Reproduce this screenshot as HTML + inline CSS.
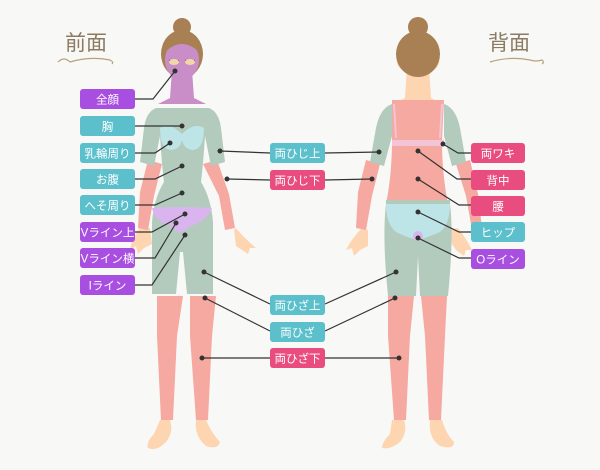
<!DOCTYPE html>
<html><head><meta charset="utf-8"><style>
html,body{margin:0;padding:0;background:#f8f8f6;}
svg{display:block}
text{font-family:"Liberation Sans","Noto Sans CJK JP",sans-serif;}
</style></head><body>
<svg width="600" height="470" viewBox="0 0 600 470" xmlns="http://www.w3.org/2000/svg">
<rect width="600" height="470" fill="#f8f8f6"/>
<!-- titles -->
<text x="65" y="50" font-size="21" fill="#8c7b62" font-family="Noto Serif CJK SC, serif">前面</text>
<path d="M58 62 q6 -6 12 0 q20 -6 40 -2 q4 2 2 4" fill="none" stroke="#b8a27a" stroke-width="1.2"/>
<text x="488" y="50" font-size="21" fill="#8c7b62" font-family="Noto Serif CJK SC, serif">背面</text>
<path d="M490 62 q20 -6 40 -2 q6 2 12 0 q3 2 0 4" fill="none" stroke="#b8a27a" stroke-width="1.2"/>

<!-- FRONT FIGURE -->
<g>
 <!-- hands -->
 <path d="M140 228 q-8 10 -10 22 l6 -4 l2 8 l6 -6 l8 -4 l-2 -16z" fill="#fdd5b1"/>
 <path d="M236 228 q6 8 20 20 l-6 0 l-2 6 l-6 -4 l-6 -4 l-2 -16z" fill="#fdd5b1"/>
 <!-- feet -->
 <path d="M160 420 l10 0 q4 12 -4 22 q-10 10 -18 6 q-2 -6 6 -14z" fill="#fdd5b1"/>
 <path d="M196 420 l10 0 q6 14 14 22 q-2 8 -14 4 q-12 -10 -10 -26z" fill="#fdd5b1"/>
 <!-- lower legs -->
 <path d="M157 296 l26 0 l-6 40 l-4 84 l-12 0 l-4 -84z" fill="#f6a9a0"/>
 <path d="M190 296 l26 0 l-4 40 l-4 84 l-12 0 l-6 -84z" fill="#f6a9a0"/>
 <!-- forearms -->
 <path d="M148 160 l14 4 l-8 32 l-6 34 l-10 -2 l2 -36z" fill="#f6a9a0"/>
 <path d="M203 164 l14 -4 l12 34 l6 34 l-10 2 l-6 -34z" fill="#f6a9a0"/>
 <!-- neck & face -->
 <path d="M172 70 l20 0 l2 28 l12 6 l-48 0 l12 -6z" fill="#c98ec8"/>
 <!-- hair -->
 <circle cx="182" cy="27" r="9" fill="#a97f54"/>
 <ellipse cx="182" cy="54" rx="21" ry="24" fill="#a97f54"/>
 <ellipse cx="182" cy="60" rx="17" ry="20" fill="#c98ec8"/>
 <path d="M165 52 q17 -16 34 0 q-4 -16 -17 -16 q-13 0 -17 16z" fill="#a97f54"/>
 <path d="M169 60 q5 4 10 0 M185 60 q5 4 10 0" fill="none" stroke="#6d4a3a" stroke-width="1"/>
 <ellipse cx="174" cy="62" rx="5" ry="3" fill="#f1d7a8"/>
 <ellipse cx="190" cy="62" rx="5" ry="3" fill="#f1d7a8"/>
 <!-- torso + upper arms -->
 <path d="M156 108 q-10 4 -12 20 l-4 34 l14 4 l6 -30 q2 30 4 46 q-10 16 -12 40 l0 72 l24 0 l4 -42 l3 0 l4 42 l26 0 l0 -72 q-2 -24 -12 -40 q2 -16 4 -46 l6 30 l14 -4 l-4 -34 q-2 -16 -12 -20 z" fill="#b3cbbd"/>
 <!-- bra -->
 <path d="M160 128 q0 20 10 22 q10 0 12 -10 q2 10 12 10 q10 -2 10 -22 q-10 -6 -22 6 q-12 -12 -22 -6z" fill="#bde4e6"/>
 <!-- panty -->
 <path d="M152 208 q30 -2 60 0 q-6 14 -22 18 l-7 6 l-6 0 l-6 -6 q-16 -4 -19 -18z" fill="#dab4ee"/>
</g>

<!-- BACK FIGURE -->
<g>
 <path d="M362 228 q-10 10 -16 22 l6 -2 l2 8 l6 -6 l8 -4 l0 -16z" fill="#fdd5b1"/>
 <path d="M458 228 q8 10 14 22 l-6 0 l-2 6 l-8 -6 l-4 -6 l-2 -14z" fill="#fdd5b1"/>
 <path d="M392 420 l12 0 q4 12 -4 22 q-10 8 -18 6 q0 -6 8 -14z" fill="#fdd5b1"/>
 <path d="M430 420 l12 0 q4 14 12 22 q0 8 -14 4 q-12 -8 -10 -26z" fill="#fdd5b1"/>
 <path d="M388 296 l26 0 l-4 40 l-4 84 l-12 0 l-6 -84z" fill="#f6a9a0"/>
 <path d="M421 296 l26 0 l-2 40 l-4 84 l-12 0 l-4 -84z" fill="#f6a9a0"/>
 <path d="M366 160 l14 4 l-8 32 l-6 34 l-10 -2 l2 -36z" fill="#f6a9a0"/>
 <path d="M456 164 l14 -4 l8 34 l4 34 l-10 2 l-6 -34z" fill="#f6a9a0"/>
 <!-- neck -->
 <path d="M407 66 l22 0 l2 32 l12 6 l-50 0 l12 -6z" fill="#fdd5b1"/>
 <path d="M398 54 q-4 10 4 16 l32 0 q8 -6 4 -16z" fill="#fdd5b1"/>
 <circle cx="418" cy="27" r="10" fill="#a97f54"/>
 <ellipse cx="418" cy="54" rx="22" ry="23" fill="#a97f54"/>
 <!-- upper arms + legs green -->
 <path d="M392 104 q-12 4 -16 24 l-6 34 l14 4 l8 -30 l0 -32z" fill="#b3cbbd"/>
 <path d="M444 104 q12 4 16 24 l6 34 l-14 4 l-8 -30 l0 -32z" fill="#b3cbbd"/>
 <path d="M386 204 l64 0 q4 30 -2 92 l-28 0 l-2 -40 l-2 40 l-28 0 q-6 -60 -2 -92z" fill="#b3cbbd"/>
 <!-- back torso pink -->
 <path d="M392 100 l52 0 l-2 40 q0 34 6 64 l-62 0 q6 -30 6 -64z" fill="#f6a9a0"/>
 <path d="M394 104 l2 34 M442 104 l-2 34" stroke="#f3c3d6" stroke-width="2"/>
 <rect x="392" y="140" width="52" height="6" fill="#f3c3d6"/>
 <rect x="386" y="200" width="64" height="5" fill="#b3cbbd"/>
 <!-- panty -->
 <path d="M386 204 l64 0 q0 20 -10 28 q-14 6 -22 8 q-10 -2 -22 -8 q-10 -8 -10 -28z" fill="#bde4e6"/>
 <circle cx="418" cy="236" r="5" fill="#dab4ee"/>
</g>

<!-- connectors -->
<g stroke="#333" stroke-width="1.2" fill="none">
 <polyline points="135,99 153,99 175,71"/>
 <polyline points="135,126 182,126"/>
 <polyline points="135,153 155,153 170,143"/>
 <polyline points="135,179 155,179 182,166"/>
 <polyline points="135,205 155,205 182,193"/>
 <polyline points="135,232 152,232 185,214"/>
 <polyline points="135,258 155,258 176,223"/>
 <polyline points="135,285 152,285 185,235"/>
 <line x1="220" y1="151" x2="270" y2="153"/><line x1="379" y1="152" x2="325" y2="153"/>
 <line x1="227" y1="179" x2="270" y2="180"/><line x1="372" y1="179" x2="325" y2="180"/>
 <line x1="204" y1="272" x2="270" y2="304"/><line x1="396" y1="272" x2="325" y2="304"/>
 <line x1="205" y1="298" x2="270" y2="331"/><line x1="395" y1="298" x2="325" y2="331"/>
 <line x1="202" y1="358" x2="270" y2="358"/><line x1="399" y1="358" x2="325" y2="358"/>
 <polyline points="443,144 458,153 471,153"/>
 <polyline points="418,151 457,179 471,179"/>
 <polyline points="418,179 459,205 471,205"/>
 <polyline points="418,212 459,232 471,232"/>
 <polyline points="418,238 459,258 471,258"/>
</g>
<g fill="#333">
 <circle cx="175" cy="71" r="2.5"/><circle cx="182" cy="126" r="2.5"/><circle cx="170" cy="143" r="2.5"/>
 <circle cx="182" cy="166" r="2.5"/><circle cx="182" cy="193" r="2.5"/><circle cx="185" cy="214" r="2.5"/>
 <circle cx="176" cy="223" r="2.5"/><circle cx="185" cy="235" r="2.5"/>
 <circle cx="220" cy="151" r="2.5"/><circle cx="379" cy="152" r="2.5"/><circle cx="227" cy="179" r="2.5"/><circle cx="372" cy="179" r="2.5"/>
 <circle cx="204" cy="272" r="2.5"/><circle cx="396" cy="272" r="2.5"/><circle cx="205" cy="298" r="2.5"/><circle cx="395" cy="298" r="2.5"/>
 <circle cx="202" cy="358" r="2.5"/><circle cx="399" cy="358" r="2.5"/>
 <circle cx="443" cy="144" r="2.5"/><circle cx="418" cy="151" r="2.5"/><circle cx="418" cy="179" r="2.5"/><circle cx="418" cy="212" r="2.5"/><circle cx="418" cy="238" r="2.5"/>
</g>

<!-- labels -->
<g font-size="11.5" fill="#fff" text-anchor="middle">
 <rect x="80" y="89" width="55" height="20" rx="3" fill="#a84ee0"/><text x="107.5" y="103.5">全顔</text>
 <rect x="80" y="116" width="55" height="20" rx="3" fill="#5bc0cc"/><text x="107.5" y="130.5">胸</text>
 <rect x="80" y="143" width="55" height="20" rx="3" fill="#5bc0cc"/><text x="107.5" y="157.5">乳輪周り</text>
 <rect x="80" y="169" width="55" height="20" rx="3" fill="#5bc0cc"/><text x="107.5" y="183.5">お腹</text>
 <rect x="80" y="195" width="55" height="20" rx="3" fill="#5bc0cc"/><text x="107.5" y="209.5">へそ周り</text>
 <rect x="80" y="222" width="55" height="20" rx="3" fill="#a84ee0"/><text x="107.5" y="236.5">Vライン上</text>
 <rect x="80" y="248" width="55" height="20" rx="3" fill="#a84ee0"/><text x="107.5" y="262.5">Vライン横</text>
 <rect x="80" y="275" width="55" height="20" rx="3" fill="#a84ee0"/><text x="107.5" y="289.5">Iライン</text>

 <rect x="270" y="143" width="55" height="20" rx="3" fill="#5bc0cc"/><text x="297.5" y="157.5">両ひじ上</text>
 <rect x="270" y="170" width="55" height="20" rx="3" fill="#e94d7f"/><text x="297.5" y="184.5">両ひじ下</text>
 <rect x="270" y="295" width="55" height="20" rx="3" fill="#5bc0cc"/><text x="297.5" y="309.5">両ひざ上</text>
 <rect x="270" y="322" width="55" height="20" rx="3" fill="#5bc0cc"/><text x="297.5" y="336.5">両ひざ</text>
 <rect x="270" y="348" width="55" height="20" rx="3" fill="#e94d7f"/><text x="297.5" y="362.5">両ひざ下</text>

 <rect x="471" y="143" width="54" height="20" rx="3" fill="#e94d7f"/><text x="498" y="157.5">両ワキ</text>
 <rect x="471" y="170" width="54" height="20" rx="3" fill="#e94d7f"/><text x="498" y="184.5">背中</text>
 <rect x="471" y="196" width="54" height="20" rx="3" fill="#e94d7f"/><text x="498" y="210.5">腰</text>
 <rect x="471" y="222" width="54" height="20" rx="3" fill="#5bc0cc"/><text x="498" y="236.5">ヒップ</text>
 <rect x="471" y="249" width="54" height="20" rx="3" fill="#a84ee0"/><text x="498" y="263.5">Oライン</text>
</g>
</svg>
</body></html>
